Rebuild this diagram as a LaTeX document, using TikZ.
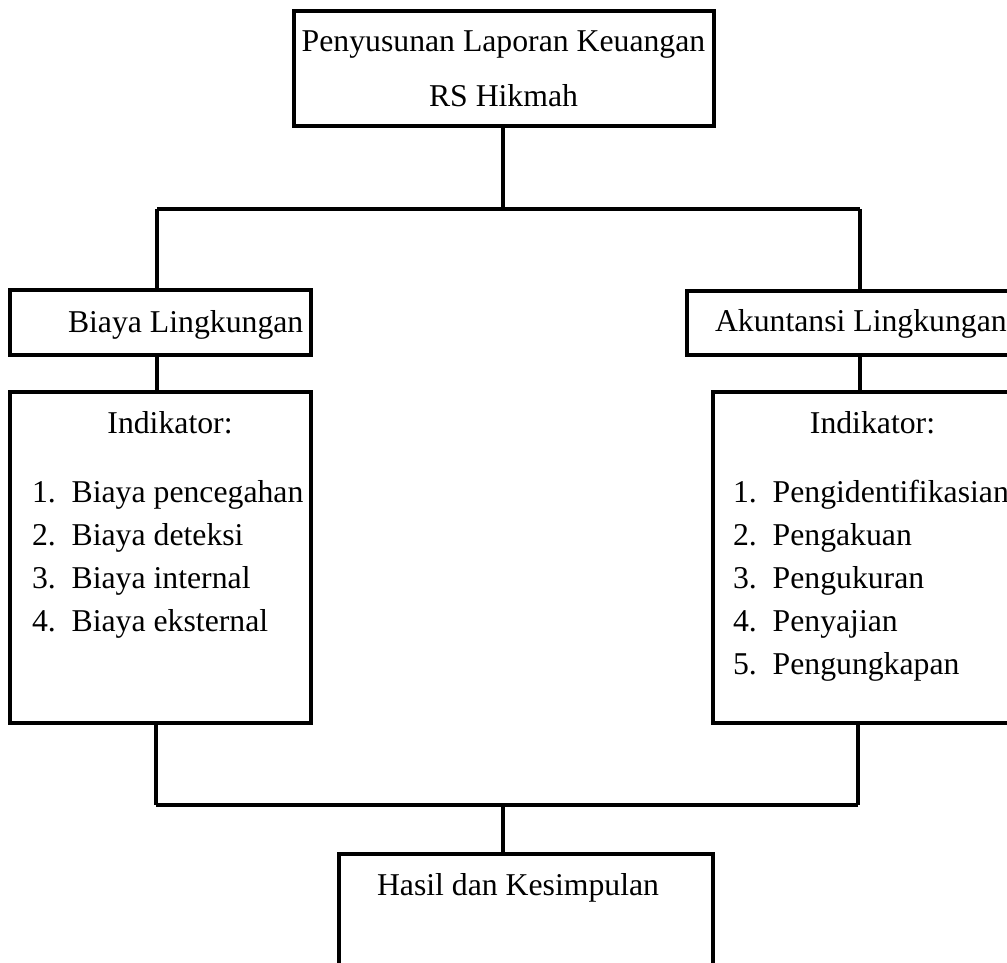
\documentclass[tikz,border=0pt]{standalone}
\usepackage{fontspec}
\setmainfont{Liberation Serif}
\begin{document}
\begin{tikzpicture}[x=0.75pt,y=-0.75pt,
  box/.style={draw,line width=2.4pt,inner sep=0pt,outer sep=0pt,anchor=north west,rectangle},
  lbl/.style={inner sep=0pt,outer sep=0pt,font=\fontsize{23.8}{28}\selectfont},
  conn/.style={line width=2.4pt}]
\useasboundingbox (0,0) rectangle (1007,963);
\clip (0,0) rectangle (1007,963);
% boxes
\node[box,minimum width=315pt,minimum height=86.25pt] (top) at (294,11) {};
\node[box,minimum width=225.75pt,minimum height=48.75pt] (biaya) at (10,290) {};
\node[box,minimum width=225.75pt,minimum height=248.25pt] (indl) at (10,392) {};
\node[box,minimum width=259.5pt,minimum height=48pt] (akun) at (687,291) {};
\node[box,minimum width=222.75pt,minimum height=248.25pt] (indr) at (713,392) {};
\node[box,minimum width=280.5pt,minimum height=110pt] (hasil) at (339,854) {};
% texts
\node[lbl,anchor=base] (t1) at (503.5,52) {Penyusunan Laporan Keuangan};
\node[lbl,anchor=base] (t2) at (503.5,107) {RS Hikmah};
\node[lbl,anchor=base west] (tb) at (68,332) {Biaya Lingkungan};
\node[lbl,anchor=base west] (ta) at (715,331) {Akuntansi Lingkungan};
\node[lbl,anchor=base] (il) at (170,433) {Indikator:};
\node[lbl,anchor=base west] (l1) at (32,502) {1.\hspace{0.5em}Biaya pencegahan};
\node[lbl,anchor=base west] (l2) at (32,545) {2.\hspace{0.5em}Biaya deteksi};
\node[lbl,anchor=base west] (l3) at (32,588) {3.\hspace{0.5em}Biaya internal};
\node[lbl,anchor=base west] (l4) at (32,631) {4.\hspace{0.5em}Biaya eksternal};
\node[lbl,anchor=base] (ir) at (872.5,433) {Indikator:};
\node[lbl,anchor=base west] (r1) at (733,502) {1.\hspace{0.5em}Pengidentifikasian};
\node[lbl,anchor=base west] (r2) at (733,545) {2.\hspace{0.5em}Pengakuan};
\node[lbl,anchor=base west] (r3) at (733,588) {3.\hspace{0.5em}Pengukuran};
\node[lbl,anchor=base west] (r4) at (733,631) {4.\hspace{0.5em}Penyajian};
\node[lbl,anchor=base west] (r5) at (733,674) {5.\hspace{0.5em}Pengungkapan};
\node[lbl,anchor=base west] (th) at (377,895) {Hasil dan Kesimpulan};
% junctions
\coordinate (jt) at (503,209);
\coordinate (jl) at (157,209);
\coordinate (jr) at (860,209);
\coordinate (bl) at (156,805);
\coordinate (br) at (858,805);
\coordinate (bm) at (503,805);
% connectors
\draw[conn] (top.south -| jt) -- (jt);
\draw[conn] (jl) -- (jr);
\draw[conn] (jl) -- (jl |- biaya.north);
\draw[conn] (jr) -- (jr |- akun.north);
\draw[conn] (biaya.south -| jl) -- (jl |- indl.north);
\draw[conn] (akun.south -| jr) -- (jr |- indr.north);
\draw[conn] (indl.south -| bl) -- (bl);
\draw[conn] (indr.south -| br) -- (br);
\draw[conn] (bl) -- (br);
\draw[conn] (bm) -- (bm |- hasil.north);
\end{tikzpicture}
\end{document}
